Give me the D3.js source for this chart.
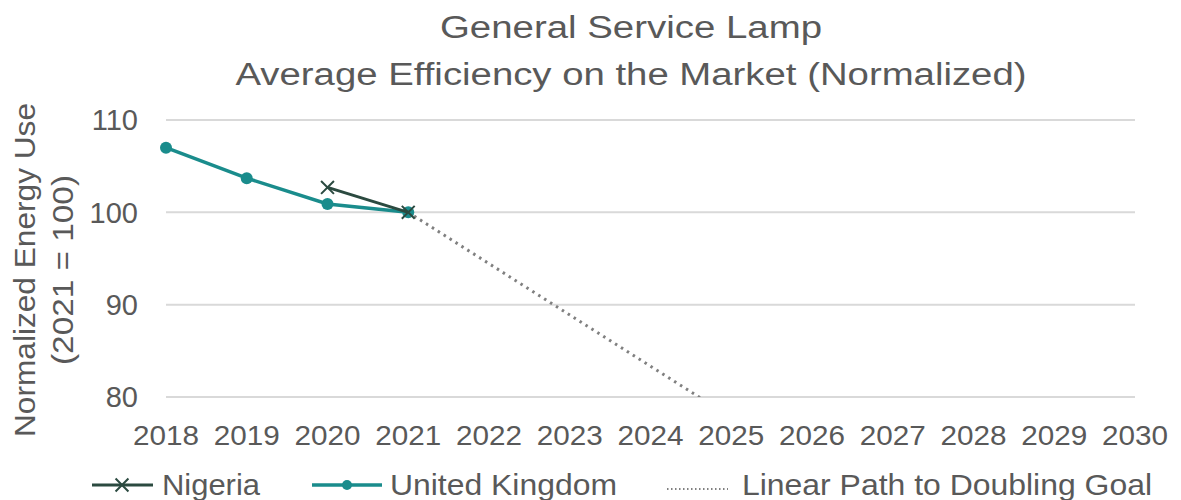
<!DOCTYPE html>
<html>
<head>
<meta charset="utf-8">
<script src="https://cdn.jsdelivr.net/npm/d3@7"></script>
<style>
  body { margin: 0; background: #fff; }
  text { font-family: "Liberation Sans", Arial, sans-serif; fill: #595959; }
</style>
</head>
<body>
<div id="chart"></div>
<script>
// data
var years = [2018, 2019, 2020, 2021, 2022, 2023, 2024, 2025, 2026, 2027, 2028, 2029, 2030];
var ukYears = [2018, 2019, 2020, 2021];
var ukValues = [107.0, 103.7, 100.9, 100];
var nigeriaYears = [2020, 2021];
var nigeriaValues = [102.7, 100];
var goalYears = [2021, 2030];
var goalValues = [100, 50];
var yTicks = [80, 90, 100, 110];

var width = 1181, height = 500;
var margin = {top: 120, right: 46, bottom: 103, left: 166};

var svg = d3.select("#chart").append("svg")
    .attr("width", width)
    .attr("height", height);

var x = d3.scaleLinear()
  .domain([2018, 2030])
  .range([margin.left, width - margin.right]);

var y = d3.scaleLinear()
  .domain([80, 110])
  .range([height - margin.bottom, margin.top]);

// title (the source picture is a bit stretched sideways, so widths are fixed)
svg.append("text")
  .attr("x", 631).attr("y", 38)
  .attr("text-anchor", "middle")
  .attr("textLength", 382).attr("lengthAdjust", "spacingAndGlyphs")
  .style("font-size", "31px")
  .text("General Service Lamp");
svg.append("text")
  .attr("x", 631).attr("y", 85)
  .attr("text-anchor", "middle")
  .attr("textLength", 791).attr("lengthAdjust", "spacingAndGlyphs")
  .style("font-size", "31px")
  .text("Average Efficiency on the Market (Normalized)");

// gridlines
svg.append("g")
  .selectAll("line")
  .data(yTicks)
  .enter().append("line")
  .attr("x1", x(2018)).attr("x2", x(2030))
  .attr("y1", d => y(d)).attr("y2", d => y(d))
  .style("stroke", "#d9d9d9")
  .style("stroke-width", 2);

// y tick labels
svg.append("g")
  .selectAll("text")
  .data(yTicks)
  .enter().append("text")
  .attr("x", 138)
  .attr("y", d => y(d))
  .attr("dy", "0.36em")
  .attr("text-anchor", "end")
  .style("font-size", "29px")
  .text(d => d);

// x tick labels
svg.append("g")
  .selectAll("text")
  .data(years)
  .enter().append("text")
  .attr("x", d => x(d))
  .attr("y", 445)
  .attr("text-anchor", "middle")
  .attr("textLength", 66).attr("lengthAdjust", "spacingAndGlyphs")
  .style("font-size", "28px")
  .text(d => d);

// y axis title
var yt = svg.append("text")
  .attr("transform", "translate(35,270) rotate(-90)")
  .attr("text-anchor", "middle")
  .style("font-size", "29px");
yt.append("tspan").attr("x", 0).attr("dy", 0)
  .attr("textLength", 334).attr("lengthAdjust", "spacingAndGlyphs")
  .text("Normalized Energy Use");
yt.append("tspan").attr("x", 0).attr("dy", 38)
  .attr("textLength", 190).attr("lengthAdjust", "spacingAndGlyphs")
  .text("(2021 = 100)");

// clip for the goal path
svg.append("clipPath").attr("id", "plotclip")
  .append("rect")
  .attr("x", x(2018)).attr("y", y(110) - 20)
  .attr("width", x(2030) - x(2018))
  .attr("height", y(80) - y(110) + 20);

var line = d3.line().x(d => x(d[0])).y(d => y(d[1]));

// linear path to doubling goal
svg.append("path")
  .datum(d3.zip(goalYears, goalValues))
  .attr("clip-path", "url(#plotclip)")
  .attr("d", line)
  .style("fill", "none")
  .style("stroke", "#808080")
  .style("stroke-width", 3)
  .style("stroke-dasharray", "2.5 4.5");

// UK
var ukColor = "#1a8c8c";
svg.append("path")
  .datum(d3.zip(ukYears, ukValues))
  .attr("d", line)
  .style("fill", "none")
  .style("stroke", ukColor)
  .style("stroke-width", 3.5);
svg.append("g")
  .selectAll("circle")
  .data(d3.zip(ukYears, ukValues))
  .enter().append("circle")
  .attr("cx", d => x(d[0]))
  .attr("cy", d => y(d[1]))
  .attr("r", 6)
  .style("fill", ukColor);

// Nigeria
var ngColor = "#2b4a40";
svg.append("path")
  .datum(d3.zip(nigeriaYears, nigeriaValues))
  .attr("d", line)
  .style("fill", "none")
  .style("stroke", ngColor)
  .style("stroke-width", 3);
var cross = d3.symbol().type(d3.symbolX).size(110);
svg.append("g")
  .selectAll("path")
  .data(d3.zip(nigeriaYears, nigeriaValues))
  .enter().append("path")
  .attr("d", cross)
  .attr("transform", d => "translate(" + x(d[0]) + "," + y(d[1]) + ")")
  .style("fill", "none")
  .style("stroke", ngColor)
  .style("stroke-width", 2);

// legend
var ly = 485, lt = 495;
var leg = svg.append("g");
leg.append("line").attr("x1", 92).attr("x2", 153).attr("y1", ly).attr("y2", ly)
  .style("stroke", ngColor).style("stroke-width", 3);
leg.append("path").attr("d", cross).attr("transform", "translate(122," + ly + ")")
  .style("fill", "none").style("stroke", ngColor).style("stroke-width", 2);
leg.append("text").attr("x", 162).attr("y", lt)
  .attr("textLength", 98).attr("lengthAdjust", "spacingAndGlyphs")
  .style("font-size", "30px").text("Nigeria");

leg.append("line").attr("x1", 312).attr("x2", 382).attr("y1", ly).attr("y2", ly)
  .style("stroke", ukColor).style("stroke-width", 3.5);
leg.append("circle").attr("cx", 347).attr("cy", ly).attr("r", 5)
  .style("fill", ukColor);
leg.append("text").attr("x", 390).attr("y", lt)
  .attr("textLength", 227).attr("lengthAdjust", "spacingAndGlyphs")
  .style("font-size", "30px").text("United Kingdom");

leg.append("line").attr("x1", 667).attr("x2", 728).attr("y1", ly + 4).attr("y2", ly + 4)
  .style("stroke", "#808080").style("stroke-width", 2)
  .style("stroke-dasharray", "1.5 2.5");
leg.append("text").attr("x", 742).attr("y", lt)
  .attr("textLength", 410).attr("lengthAdjust", "spacingAndGlyphs")
  .style("font-size", "30px").text("Linear Path to Doubling Goal");
</script>
</body>
</html>
